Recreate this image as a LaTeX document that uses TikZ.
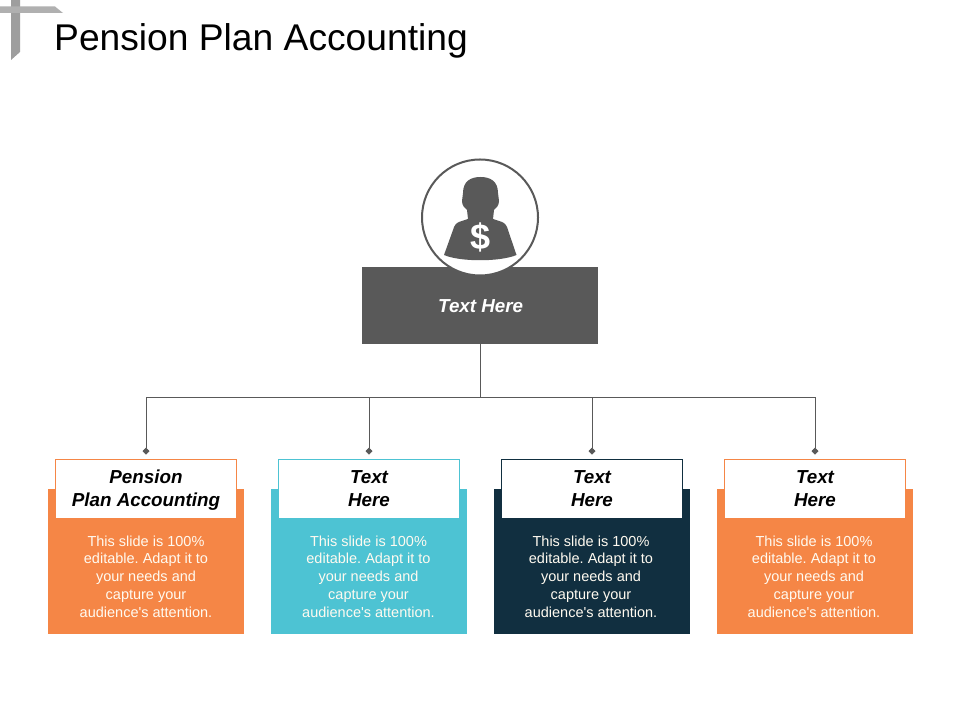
\documentclass[tikz,border=0pt]{standalone}
\usepackage{fontspec}
\setmainfont{Liberation Sans}
\usetikzlibrary{arrows.meta}
\frenchspacing
\definecolor{barColor}{RGB}{89,89,89}
\definecolor{cornerColor}{RGB}{176,176,176}
\definecolor{orangeColor}{RGB}{245,134,70}
\definecolor{tealColor}{RGB}{77,195,211}
\definecolor{navyColor}{RGB}{17,47,64}
\definecolor{bodyColor}{RGB}{255,250,240}
\tikzset{
  cardbox/.style={anchor=north west,inner sep=0pt,minimum width=196pt,minimum height=145pt},
  headbox/.style={draw,fill=white,line width=0.7pt,inner sep=0pt,minimum width=181pt,minimum height=59pt,
    align=center,text=black,font=\fontsize{18.8}{23}\selectfont\bfseries\itshape},
  bodytext/.style={text=bodyColor,align=center,inner sep=0pt,font=\fontsize{14.5}{17.8}\selectfont},
  conn/.style={draw=barColor,line width=0.8pt},
  connend/.style={conn,-{Diamond[length=7pt,width=7pt]},shorten >=4pt}
}
\begin{document}
\begin{tikzpicture}[x=1pt,y=1pt]
\path[use as bounding box,fill=white] (0,0) rectangle (960,720);

\fill[cornerColor!90!black] (11,720) -- (20,720) -- (20,668) -- (11,660) -- cycle;
\fill[cornerColor] (0,713.5) -- (55,713.5) -- (63,707) -- (0,707) -- cycle;

\node[anchor=west,inner sep=0pt,font=\fontsize{37.2}{40}\selectfont] (title) at (54,679) {Pension Plan Accounting};

\node[anchor=north west,fill=barColor,inner sep=0pt,minimum width=236pt,minimum height=77pt,
  text=white,font=\fontsize{18.8}{23}\selectfont\bfseries\itshape] (bar) at (362,453) {\hspace{1pt}Text Here};
\node[circle,draw=barColor,fill=white,line width=2pt,inner sep=0pt,minimum size=116pt] (badge) at (480,502.5) {};

\fill[barColor] (480.5,543) .. controls (471,543) and (463,539) .. (463,527)
  -- (462,519) .. controls (462,514) and (465,512) .. (467,510)
  -- (468,501) -- (459,498) .. controls (456,497) and (454,494) .. (453,490)
  -- (444,465)
  .. controls (460,458) and (500,458) .. (516.5,465)
  -- (508,490) .. controls (507,494) and (505,497) .. (502,498)
  -- (493,501) -- (494,510) .. controls (496,512) and (499,514) .. (499,519)
  -- (498,527) .. controls (498,539) and (490,543) .. (480.5,543) -- cycle;
\node[text=white,inner sep=0pt,font=\fontsize{36}{36}\selectfont\bfseries] (dollar) at (480.5,483) {\$};

\node[cardbox,fill=orangeColor] (card1) at (48,231) {};
\node[cardbox,fill=tealColor] (card2) at (271,231) {};
\node[cardbox,fill=navyColor] (card3) at (494,231) {};
\node[cardbox,fill=orangeColor] (card4) at (717,231) {};

\node[headbox,draw=orangeColor] (head1) at (146,231.5) {Pension\\\smash{Plan Accounting}};
\node[headbox,draw=tealColor] (head2) at (369,231.5) {Text\\Here};
\node[headbox,draw=navyColor] (head3) at (592,231.5) {Text\\Here};
\node[headbox,draw=orangeColor] (head4) at (815,231.5) {Text\\Here};

\node[bodytext] (body1) at (146,143.5) {This slide is 100\%\\editable. Adapt it to\\your needs and\\capture your\\audience\textquotesingle s attention.};
\node[bodytext] (body2) at (368.5,143.5) {This slide is 100\%\\editable. Adapt it to\\your needs and\\capture your\\audience\textquotesingle s attention.};
\node[bodytext] (body3) at (591,143.5) {This slide is 100\%\\editable. Adapt it to\\your needs and\\capture your\\audience\textquotesingle s attention.};
\node[bodytext] (body4) at (814,143.5) {This slide is 100\%\\editable. Adapt it to\\your needs and\\capture your\\audience\textquotesingle s attention.};

\coordinate (hub) at (480.5,323);
\draw[conn] (hub |- bar.south) -- (hub);
\draw[connend] (hub) -| (head1.north);
\draw[connend] (hub) -| (head2.north);
\draw[connend] (hub) -| (head3.north);
\draw[connend] (hub) -| (head4.north);
\end{tikzpicture}
\end{document}
